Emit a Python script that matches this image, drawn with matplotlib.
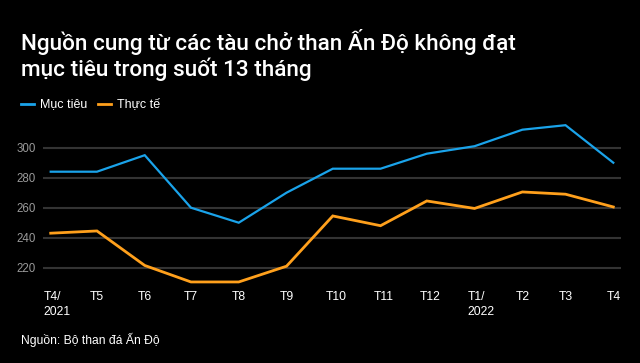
import matplotlib
matplotlib.use("Agg")
import matplotlib.pyplot as plt
import matplotlib.transforms as mtrans
from datetime import date, timedelta

plt.rcParams['font.family'] = ['Liberation Sans', 'DejaVu Sans']

months = [date(2021, 4, 1), date(2021, 5, 1), date(2021, 6, 1), date(2021, 7, 1),
          date(2021, 8, 1), date(2021, 9, 1), date(2021, 10, 1), date(2021, 11, 1),
          date(2021, 12, 1), date(2022, 1, 1), date(2022, 2, 1), date(2022, 3, 1),
          date(2022, 4, 1)]
tick_labels = ["T4/\n2021", "T5", "T6", "T7", "T8", "T9", "T10", "T11", "T12",
               "T1/\n2022", "T2", "T3", "T4"]
target = [284, 284, 295, 260, 250, 270, 286, 286, 296, 301, 312, 315, 290]
actual = [243, 244.5, 221.5, 210.5, 210.5, 221, 254.5, 248, 264.5, 259.5, 270.5, 269, 260.5]
y_ticks = [220, 240, 260, 280, 300]

BLUE = "#1AA3EA"
ORANGE = "#FFA01C"
BG = "#000000"

fig = plt.figure(figsize=(6.4, 3.63), dpi=100, facecolor=BG)
ax = fig.add_axes([43 / 640, 0.2088, 578 / 640, 0.4587], facecolor=BG)

for v in y_ticks:
    ax.axhline(v, color="#333333", lw=1.5, zorder=1)

ax.plot(months, target, color=BLUE, lw=1.6, zorder=3, solid_joinstyle="miter")
ax.plot(months, actual, color=ORANGE, lw=2.0, zorder=3, solid_joinstyle="miter")

ax.set_ylim(207, 318)
ax.set_xlim(months[0] - timedelta(days=5.2), months[-1] + timedelta(days=5.2))

ax.set_yticks(y_ticks)
ax.set_yticklabels([str(v) for v in y_ticks])
ax.set_xticks(months)
ax.set_xticklabels(tick_labels)

ax.tick_params(axis="y", length=0, pad=5, labelsize=8.3, labelcolor="#9a9a9a")
ax.tick_params(axis="x", length=0, pad=3, labelsize=8.7, labelcolor="#ffffff")
for lbl in ax.get_xticklabels():
    lbl.set_horizontalalignment("left")
    lbl.set_multialignment("left")
    lbl.set_linespacing(1.25)
    lbl.set_transform(lbl.get_transform() + mtrans.ScaledTranslation(-7 / 100, 0, fig.dpi_scale_trans))

for s in ax.spines.values():
    s.set_visible(False)

# Title
fig.text(21 / 640, 1 - 29 / 363, "Nguồn cung từ các tàu chở than Ấn Độ không đạt\nmục tiêu trong suốt 13 tháng",
         color="white", fontsize=16.2, fontweight="medium", family=["Roboto", "DejaVu Sans"],
         va="top", ha="left", linespacing=1.14)

# Legend
ly = 1 - 104 / 363
fig.add_artist(plt.Line2D([21 / 640, 34 / 640], [ly, ly], color=BLUE, lw=2))
fig.text(40 / 640, ly, "Mục tiêu", color="white", fontsize=9, va="center", ha="left")
fig.add_artist(plt.Line2D([98 / 640, 111 / 640], [ly, ly], color=ORANGE, lw=2))
fig.text(117 / 640, ly, "Thực tế", color="white", fontsize=9, va="center", ha="left")

# Source
fig.text(21 / 640, 1 - 340 / 363, "Nguồn: Bộ than đá Ấn Độ", color="white", fontsize=8.7,
         va="center", ha="left")

fig.savefig("out.png", dpi=100, facecolor=BG)
